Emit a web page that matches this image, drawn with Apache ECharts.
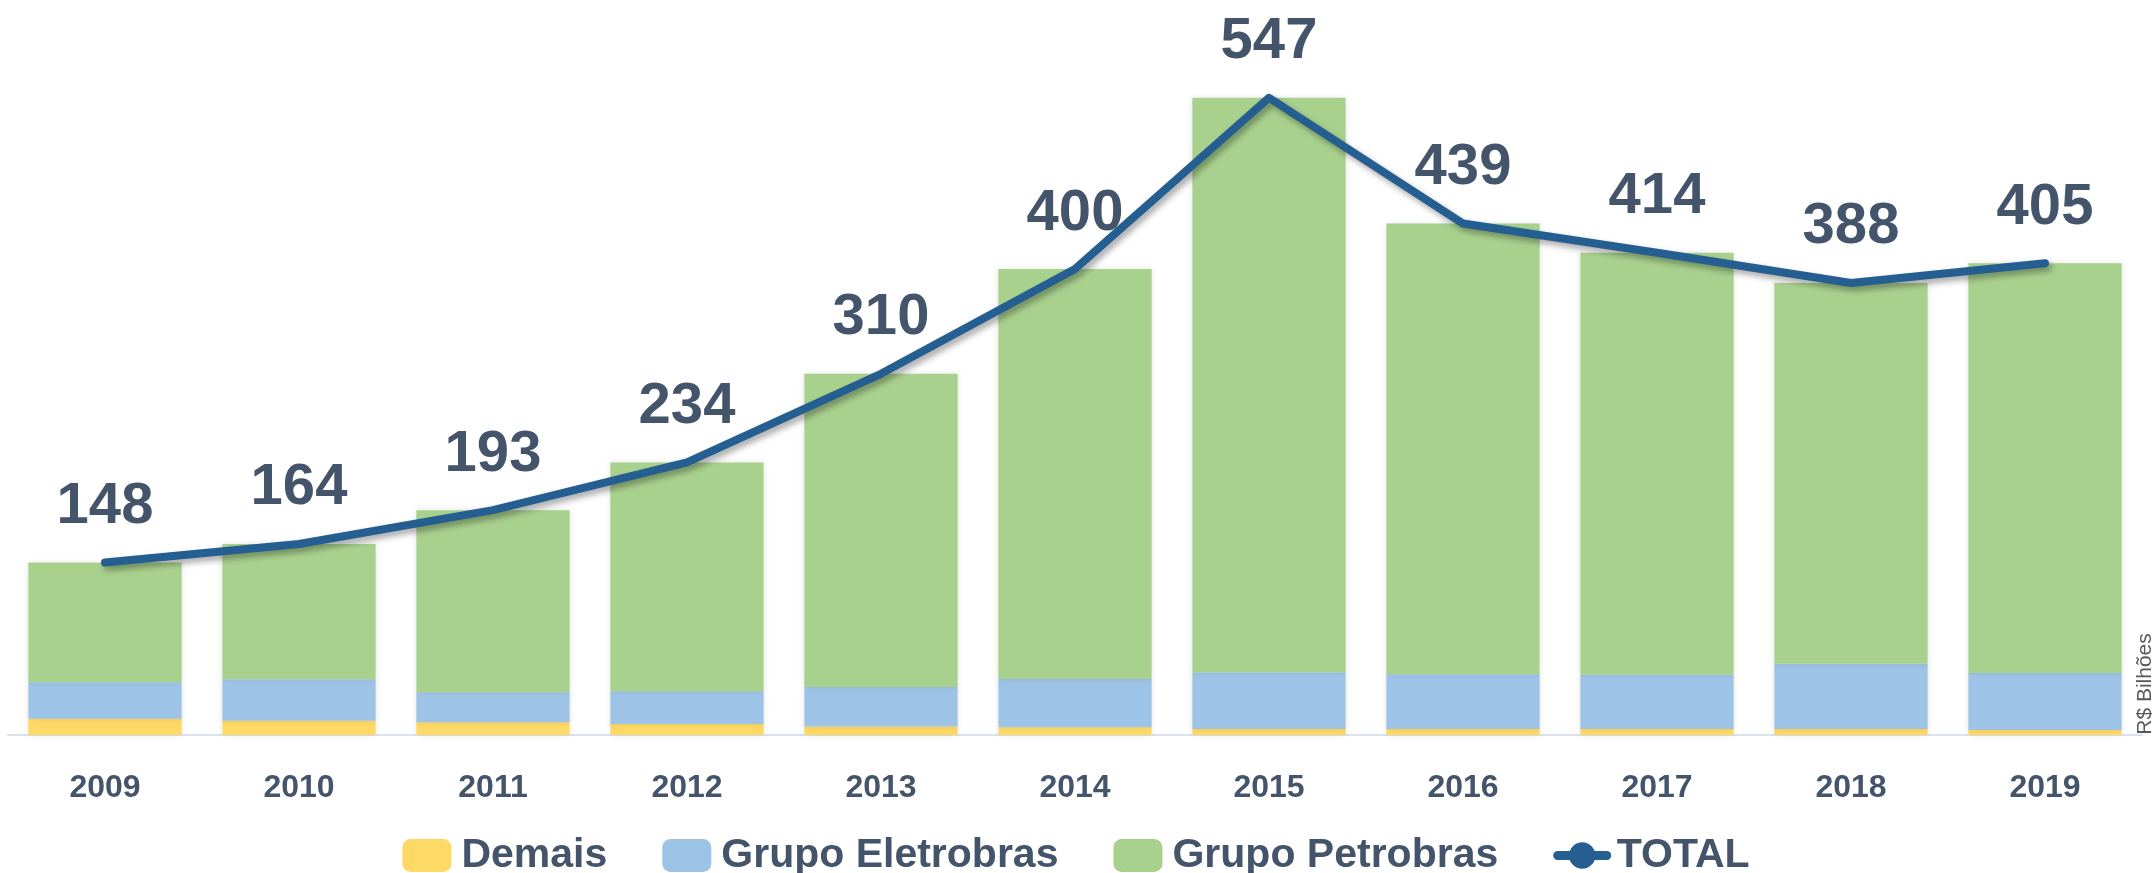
<!DOCTYPE html>
<html>
<head>
<meta charset="utf-8">
<script src="https://cdn.jsdelivr.net/npm/echarts@6/dist/echarts.min.js"></script>
<style>
html,body{margin:0;padding:0;background:#fff;}
#chart{width:2152px;height:873px;}
</style>
</head>
<body>
<div id="chart"></div>
<script>
const years = ['2009','2010','2011','2012','2013','2014','2015','2016','2017','2018','2019'];
const demais = [14.0, 12.3, 10.9, 9.4, 7.2, 6.6, 5.2, 5.2, 5.2, 5.2, 4.3];
const eletrobras = [31.2, 35.5, 25.7, 28.1, 34.0, 41.5, 48.6, 46.9, 46.6, 56.0, 48.9];
const petrobras = [102.8, 116.2, 156.4, 196.5, 268.8, 351.9, 493.2, 386.9, 362.2, 326.8, 351.8];
const total = [148, 164, 193, 234, 310, 400, 547, 439, 414, 388, 405];
const unitLabel = 'R$ Bilhões';

const FONT = '"Liberation Sans", Arial, sans-serif';
const TXT = '#44546a';

const chart = echarts.init(document.getElementById('chart'));
const barShadow = {shadowColor: 'rgba(0,0,0,0.10)', shadowBlur: 6};
chart.setOption({
  animation: false,
  backgroundColor: '#ffffff',
  textStyle: {fontFamily: FONT},
  grid: {left: 8, right: 10, top: 36, bottom: 138, containLabel: false},
  legend: {
    data: ['Demais', 'Grupo Eletrobras', 'Grupo Petrobras',
      {name: 'TOTAL', lineStyle: {width: 9, color: '#255e91'}, itemStyle: {color: '#255e91'}}],
    left: 'center',
    top: 830,
    itemWidth: 49,
    itemHeight: 33,
    itemGap: 55,
    textStyle: {fontSize: 41, fontWeight: 'bold', color: TXT, fontFamily: FONT, padding: [0, 0, 0, 5]}
  },
  xAxis: {
    type: 'category',
    data: years,
    axisLine: {show: true, lineStyle: {color: '#dce2ea', width: 2}},
    axisTick: {show: false},
    axisLabel: {fontSize: 32, fontWeight: 'bold', color: TXT, margin: 37, fontFamily: FONT}
  },
  yAxis: {
    type: 'value', min: 0, max: 600, show: false,
    splitLine: {show: false}
  },
  graphic: [{
    type: 'text',
    x: 2145, y: 684,
    rotation: Math.PI / 2,
    style: {text: unitLabel, fontSize: 21, fill: '#595959', fontFamily: FONT, textAlign: 'center', textVerticalAlign: 'middle'}
  }],
  series: [
    {name: 'Demais', type: 'bar', stack: 'a', data: demais, barCategoryGap: '21%',
     itemStyle: Object.assign({color: '#ffd966'}, barShadow)},
    {name: 'Grupo Eletrobras', type: 'bar', stack: 'a', data: eletrobras,
     itemStyle: Object.assign({color: '#9dc3e6'}, barShadow)},
    {name: 'Grupo Petrobras', type: 'bar', stack: 'a', data: petrobras,
     itemStyle: Object.assign({color: '#a9d18e'}, barShadow)},
    {name: 'TOTAL', type: 'line', data: total, z: 10,
     symbol: 'circle', symbolSize: 1, showSymbol: true,
     itemStyle: {color: '#255e91'},
     lineStyle: {color: '#255e91', width: 8, cap: 'round', join: 'round',
       shadowColor: 'rgba(0,0,0,0.35)', shadowBlur: 6, shadowOffsetX: 3, shadowOffsetY: 4},
     label: {show: true, position: 'top', distance: 26, fontSize: 58, fontWeight: 'bold', color: TXT, fontFamily: FONT}
    }
  ]
});
</script>
</body>
</html>
